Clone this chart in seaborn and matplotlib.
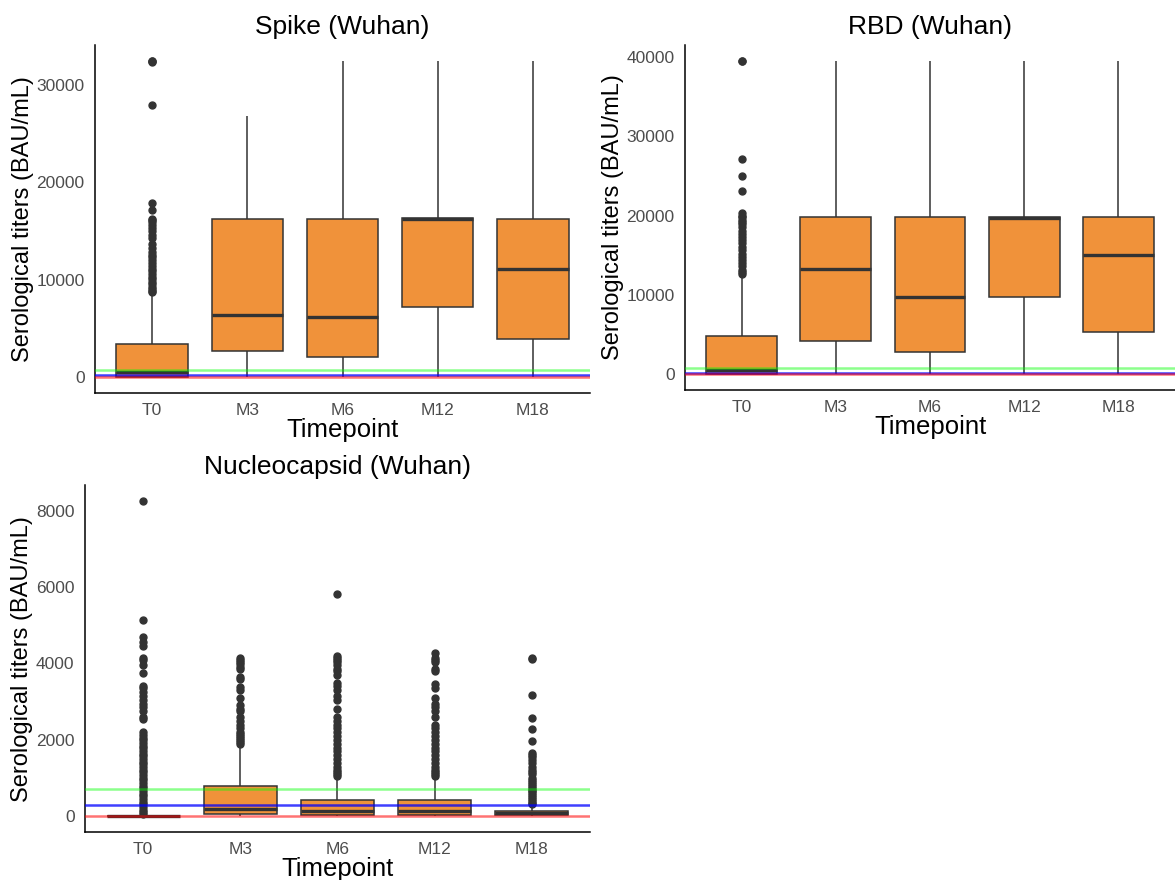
import numpy as np
import pandas as pd
import seaborn as sns
import matplotlib.pyplot as plt

timepoints = ["T0", "M3", "M6", "M12", "M18"]

# box summaries: (low whisker, q1, median, q3, high whisker)
spike_stats = [(0, 30, 550, 3390, 8400),
               (0, 2700, 6370, 16240, 26800),
               (0, 2050, 6170, 16240, 32500),
               (0, 7200, 16250, 16400, 32500),
               (0, 3900, 11100, 16240, 32500)]
spike_outliers = [[32500, 32500, 32400, 28000, 17900, 17200, 16300, 16100, 15900,
                   15600, 15300, 15000, 14600, 14300, 13700, 13300, 12900, 12600,
                   12300, 12000, 11700, 11400, 11100, 10900, 10600, 10300, 10100,
                   9800, 9600, 9300, 9100, 8900, 8700],
                  [], [], [], []]

rbd_stats = [(0, 30, 600, 4890, 12100),
             (0, 4140, 13290, 19810, 39500),
             (0, 2760, 9750, 19800, 39500),
             (0, 9780, 19750, 19850, 39500),
             (0, 5270, 15050, 19810, 39500)]
rbd_outliers = [[39500, 39500, 27100, 25000, 23100, 20300, 20000, 19800, 19500,
                 19200, 18900, 18500, 18100, 17700, 17300, 16900, 16500, 16100,
                 15600, 15200, 14800, 14400, 14000, 13600, 13200, 12900, 12600],
                [], [], [], []]

nuc_stats = [(0, 0, 5, 15, 35),
             (0, 61, 192, 785, 1790),
             (0, 44, 148, 436, 960),
             (0, 44, 148, 436, 975),
             (0, 26, 80, 140, 280)]
nuc_outliers = [[8250, 5150, 4700, 4550, 4450, 4150, 4100, 3950, 3750, 3400, 3350,
                 3250, 3150, 3050, 2950, 2850, 2750, 2600, 2550, 2200, 2130, 2060,
                 1990, 1920, 1850, 1780, 1710, 1640, 1570, 1500, 1430, 1360, 1290,
                 1220, 1150, 1080, 1010, 940, 870, 800, 730, 660, 590, 520, 450,
                 380, 310, 240, 170, 110, 60],
                [4150, 4100, 4050, 3980, 3900, 3850, 3650, 3600, 3380, 3300, 3100,
                 2900, 2820, 2750, 2600, 2500, 2400, 2300, 2200, 2150, 2100, 2050,
                 2000, 1950, 1900],
                [5820, 4200, 4150, 4100, 4050, 3950, 3850, 3800, 3700, 3500, 3400,
                 3300, 3150, 3050, 2800, 2600, 2500, 2400, 2300, 2200, 2100, 2000,
                 1900, 1800, 1700, 1600, 1500, 1400, 1300, 1200, 1150, 1100, 1050],
                [4280, 4150, 4100, 4050, 3850, 3800, 3450, 3350, 3100, 2950, 2850,
                 2750, 2600, 2400, 2300, 2200, 2100, 2000, 1900, 1800, 1700, 1600,
                 1500, 1400, 1300, 1200, 1150, 1100, 1050],
                [4130, 4120, 3170, 2580, 2290, 1960, 1660, 1600, 1540, 1480, 1400,
                 1300, 1200, 1150, 1100, 1000, 950, 900, 850, 800, 750, 700, 650,
                 600, 550, 500, 450, 400, 350, 320]]

# threshold lines (green, blue, red)
spike_lines = [760, 210, 30]
rbd_lines = [800, 210, 30]
nuc_lines = [715, 290, 10]

titles = ["Spike (Wuhan)", "RBD (Wuhan)", "Nucleocapsid (Wuhan)"]
line_colors = [("#00ff00", 0.45), ("#0000ff", 0.75), ("#ff0000", 0.55)]
orange = "#F0923A"


def box_sample(stats, outliers):
    # rebuild a sample whose quartiles/whiskers equal the read-off summary
    lo, q1, med, q3, hi = stats
    k = len(outliers) + 1
    return [lo] + [q1] * k + [med] * k + [q3] * k + [hi] + list(outliers)


def panel(ax, stats, outliers, lines, title):
    allv = []
    for tp, st, out in zip(timepoints, stats, outliers):
        vals = box_sample(st, out)
        allv += vals
        df = pd.DataFrame({"Timepoint": tp, "titer": vals})
        whis = 1.5 if out else (0, 100)
        sns.boxplot(data=df, x="Timepoint", y="titer", order=timepoints, ax=ax,
                    color=orange, saturation=1, width=0.75, whis=whis,
                    showcaps=False, linecolor="#333333", linewidth=1.1,
                    medianprops=dict(linewidth=2.4, color="#333333"),
                    flierprops=dict(marker="o", markersize=5, markerfacecolor="#333333",
                                    markeredgecolor="#333333"))
    for y, (c, a) in zip(lines, line_colors):
        ax.axhline(y, color=c, alpha=a, lw=1.8, zorder=4)
    lo, hi = min(allv), max(allv)
    pad = 0.05 * (hi - lo)
    ax.set_ylim(lo - pad, hi + pad)
    ax.set_xlim(-0.6, 4.6)
    ax.set_title(title, fontsize=19, pad=8, color="black")
    ax.set_xlabel("Timepoint", fontsize=18.5, labelpad=0, color="black")
    ax.set_ylabel("Serological titers (BAU/mL)", fontsize=17, labelpad=2, color="black")
    ax.tick_params(labelsize=12.5, labelcolor="#4D4D4D", color="#333333", length=4, width=1)
    for s in ["top", "right"]:
        ax.spines[s].set_visible(False)
    for s in ["left", "bottom"]:
        ax.spines[s].set_linewidth(1.1)
        ax.spines[s].set_color("black")


sns.set_style("white")
plt.rcParams["font.family"] = ["Liberation Sans", "DejaVu Sans"]

fig = plt.figure(figsize=(11.75, 8.8), dpi=100)
ax1 = fig.add_axes([0.0809, 0.5534, 0.4213, 0.3955])
ax2 = fig.add_axes([0.583, 0.5568, 0.417, 0.392])
ax3 = fig.add_axes([0.0723, 0.0545, 0.4298, 0.394])

panel(ax1, spike_stats, spike_outliers, spike_lines, titles[0])
panel(ax2, rbd_stats, rbd_outliers, rbd_lines, titles[1])
panel(ax3, nuc_stats, nuc_outliers, nuc_lines, titles[2])
ax1.set_yticks([0, 10000, 20000, 30000])
ax2.set_yticks([0, 10000, 20000, 30000, 40000])
ax3.set_yticks([0, 2000, 4000, 6000, 8000])

fig.savefig("out.png", dpi=100)
